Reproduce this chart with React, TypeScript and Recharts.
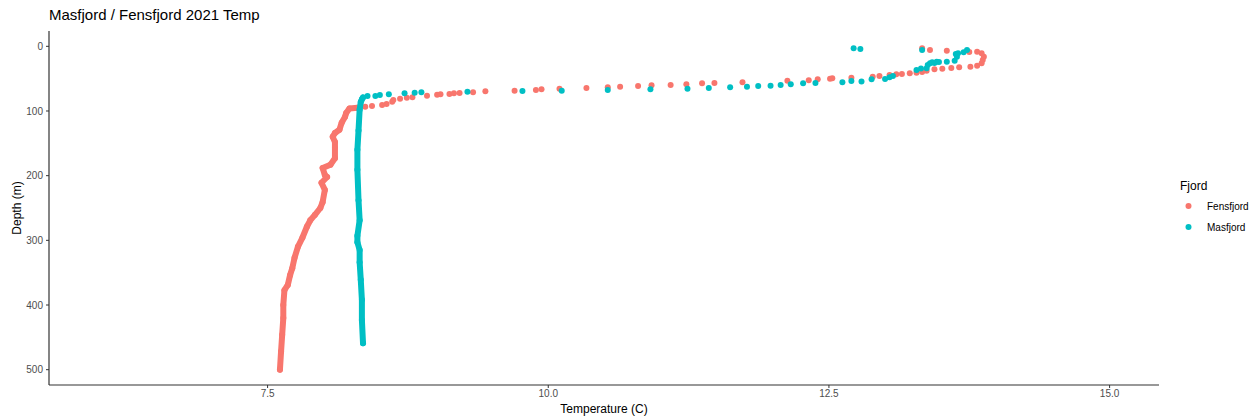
import { ScatterChart, Scatter, XAxis, YAxis, Label } from 'recharts';

// Fensfjord deep profile (continuous CTD trace)
const fensfjordDeep = [
  { temp: 8.3, depth: 95 }, { temp: 8.23, depth: 96 }, { temp: 8.2, depth: 103 },
  { temp: 8.19, depth: 109 }, { temp: 8.16, depth: 118 }, { temp: 8.14, depth: 129 },
  { temp: 8.1, depth: 134 }, { temp: 8.08, depth: 140 }, { temp: 8.1, depth: 148 },
  { temp: 8.1, depth: 157 }, { temp: 8.1, depth: 173 }, { temp: 8.06, depth: 183 },
  { temp: 7.99, depth: 188 }, { temp: 8.01, depth: 199 }, { temp: 8.03, depth: 202 },
  { temp: 7.98, depth: 211 }, { temp: 8.01, depth: 222 }, { temp: 7.99, depth: 241 },
  { temp: 7.97, depth: 250 }, { temp: 7.92, depth: 261 }, { temp: 7.88, depth: 269 },
  { temp: 7.85, depth: 279 }, { temp: 7.81, depth: 296 }, { temp: 7.77, depth: 310 },
  { temp: 7.74, depth: 327 }, { temp: 7.72, depth: 343 }, { temp: 7.7, depth: 354 },
  { temp: 7.68, depth: 369 }, { temp: 7.65, depth: 377 }, { temp: 7.64, depth: 400 },
  { temp: 7.64, depth: 420 }, { temp: 7.63, depth: 446 }, { temp: 7.62, depth: 472 },
  { temp: 7.61, depth: 500 },
];

// Fensfjord upper layer (sparse samples)
const fensfjordUpper = [
  { temp: 8.37, depth: 93.4 }, { temp: 8.43, depth: 92.3 }, { temp: 8.52, depth: 90.8 },
  { temp: 8.56, depth: 89.2 }, { temp: 8.61, depth: 85.7 }, { temp: 8.62, depth: 83 },
  { temp: 8.68, depth: 81 }, { temp: 8.74, depth: 79.5 }, { temp: 8.79, depth: 78.9 },
  { temp: 8.92, depth: 76.4 }, { temp: 9.01, depth: 74.8 }, { temp: 9.04, depth: 74.2 },
  { temp: 9.12, depth: 73.7 }, { temp: 9.16, depth: 72.7 }, { temp: 9.21, depth: 72.2 },
  { temp: 9.33, depth: 71.1 }, { temp: 9.44, depth: 69.6 }, { temp: 9.7, depth: 68.6 },
  { temp: 9.89, depth: 67.6 }, { temp: 9.94, depth: 66.5 }, { temp: 10.1, depth: 65.6 },
  { temp: 10.34, depth: 64.5 }, { temp: 10.53, depth: 63.4 }, { temp: 10.64, depth: 62.5 },
  { temp: 10.8, depth: 61.4 }, { temp: 10.92, depth: 60.3 }, { temp: 11.09, depth: 59.8 },
  { temp: 11.23, depth: 58.8 }, { temp: 11.37, depth: 57.2 }, { temp: 11.48, depth: 56.7 },
  { temp: 11.73, depth: 55.7 }, { temp: 12.13, depth: 53.2 }, { temp: 12.32, depth: 52.6 },
  { temp: 12.4, depth: 51 }, { temp: 12.51, depth: 50.1 }, { temp: 12.53, depth: 49.5 },
  { temp: 12.7, depth: 48.5 }, { temp: 12.89, depth: 47 }, { temp: 12.95, depth: 45.9 },
  { temp: 13.04, depth: 44.4 }, { temp: 13.1, depth: 43.3 }, { temp: 13.15, depth: 42.8 },
  { temp: 13.22, depth: 41.7 }, { temp: 13.28, depth: 40.8 }, { temp: 13.33, depth: 39.7 },
  { temp: 13.37, depth: 37.7 }, { temp: 13.44, depth: 35.6 }, { temp: 13.51, depth: 34.6 },
  { temp: 13.59, depth: 33.5 }, { temp: 13.66, depth: 32.5 }, { temp: 13.76, depth: 31.5 },
  { temp: 13.82, depth: 30 }, { temp: 13.86, depth: 26.3 }, { temp: 13.87, depth: 21.2 },
  { temp: 13.88, depth: 16.1 }, { temp: 13.86, depth: 10.8 }, { temp: 13.82, depth: 8.3 },
  { temp: 13.75, depth: 8.8 }, { temp: 13.55, depth: 6.8 }, { temp: 13.4, depth: 5.7 },
  { temp: 13.33, depth: 3.1 },
];

// Masfjord deep profile
const masfjordDeep = [
  { temp: 8.35, depth: 79 }, { temp: 8.34, depth: 82 }, { temp: 8.33, depth: 86 },
  { temp: 8.32, depth: 98 }, { temp: 8.31, depth: 130 }, { temp: 8.3, depth: 160 },
  { temp: 8.3, depth: 191 }, { temp: 8.31, depth: 238 }, { temp: 8.32, depth: 269 },
  { temp: 8.3, depth: 293 }, { temp: 8.3, depth: 303 }, { temp: 8.32, depth: 315 },
  { temp: 8.32, depth: 334 }, { temp: 8.33, depth: 361 }, { temp: 8.34, depth: 392 },
  { temp: 8.34, depth: 423 }, { temp: 8.35, depth: 459 },
];

// Masfjord upper layer
const masfjordUpper = [
  { temp: 8.39, depth: 76.8 }, { temp: 8.46, depth: 76.8 }, { temp: 8.5, depth: 75.3 },
  { temp: 8.58, depth: 74.2 }, { temp: 8.72, depth: 72.7 }, { temp: 8.81, depth: 71.7 },
  { temp: 8.87, depth: 71.1 }, { temp: 9.28, depth: 70.2 }, { temp: 9.77, depth: 69.1 },
  { temp: 10.12, depth: 68.6 }, { temp: 10.53, depth: 67.6 }, { temp: 10.91, depth: 66.5 },
  { temp: 11.24, depth: 65.6 }, { temp: 11.43, depth: 64.5 }, { temp: 11.62, depth: 63.4 },
  { temp: 11.77, depth: 62.5 }, { temp: 11.87, depth: 61.4 }, { temp: 11.98, depth: 60.9 },
  { temp: 12.07, depth: 59.8 }, { temp: 12.16, depth: 58.8 }, { temp: 12.27, depth: 57.2 },
  { temp: 12.38, depth: 56.7 }, { temp: 12.62, depth: 55.7 }, { temp: 12.7, depth: 53.6 },
  { temp: 12.79, depth: 54.4 }, { temp: 12.88, depth: 51 }, { temp: 13.0, depth: 50.6 },
  { temp: 13.04, depth: 47.9 }, { temp: 13.07, depth: 45.9 }, { temp: 13.28, depth: 36.6 },
  { temp: 13.32, depth: 34.3 }, { temp: 13.37, depth: 34 }, { temp: 13.38, depth: 28.9 },
  { temp: 13.4, depth: 26.3 }, { temp: 13.42, depth: 24.7 }, { temp: 13.44, depth: 25.8 },
  { temp: 13.46, depth: 23.8 }, { temp: 13.48, depth: 24.3 }, { temp: 13.55, depth: 23.8 },
  { temp: 13.62, depth: 22.3 }, { temp: 13.63, depth: 11.9 }, { temp: 13.64, depth: 16.1 },
  { temp: 13.65, depth: 10.8 }, { temp: 13.7, depth: 9.3 }, { temp: 13.73, depth: 5.7 },
  { temp: 12.72, depth: 3.1 }, { temp: 12.78, depth: 4.2 }, { temp: 13.33, depth: 5.7 },
];

const xTicks = [7.5, 10, 12.5, 15];
const yTicks = [0, 100, 200, 300, 400, 500];

const FENS = '#F8766D';
const MAS = '#00BFC4';
const FONT = '"Liberation Sans", Arial, sans-serif';

const dot = (color: string) => (props: any) => (
  <circle cx={props.cx} cy={props.cy} r={3} fill={color} />
);

export default function App() {
  return (
    <div style={{ position: 'relative', width: 1254, height: 419, fontFamily: FONT, background: '#fff' }}>
      <style>{'body{margin:0}'}</style>
      <div style={{ position: 'absolute', left: 49, top: 6, fontSize: 15, lineHeight: '17px', color: '#000' }}>
        Masfjord / Fensfjord 2021 Temp
      </div>
      <div
        style={{
          position: 'absolute', left: 17, top: 208, fontSize: 12, lineHeight: '14px',
          transform: 'translate(-50%, -50%) rotate(-90deg)', whiteSpace: 'nowrap', color: '#000',
        }}
      >
        Depth (m)
      </div>

      <ScatterChart width={1254} height={419} margin={{ top: 31, right: 95, left: 0, bottom: 0 }}>
        <XAxis
          type="number"
          dataKey="temp"
          domain={[5.553, 15.44]}
          ticks={xTicks}
          tickFormatter={(v) => v.toFixed(1)}
          allowDataOverflow
          height={34}
          tickSize={3}
          tickMargin={2}
          axisLine={{ stroke: '#333', strokeWidth: 1.2 }}
          tickLine={{ stroke: '#333' }}
          tick={{ fontSize: 10, fill: '#4D4D4D', fontFamily: FONT }}
        >
          <Label value="Temperature (C)" position="insideBottom" offset={6} style={{ fontSize: 12, fill: '#000', fontFamily: FONT }} />
        </XAxis>
        <YAxis
          type="number"
          dataKey="depth"
          domain={[-23.7, 523.7]}
          reversed
          ticks={yTicks}
          allowDataOverflow
          width={49}
          tickSize={3}
          tickMargin={3}
          axisLine={{ stroke: '#333', strokeWidth: 1.2 }}
          tickLine={{ stroke: '#333' }}
          tick={{ fontSize: 10, fill: '#4D4D4D', fontFamily: FONT }}
        />
        <Scatter
          name="Fensfjord"
          data={fensfjordDeep}
          fill={FENS}
          shape={dot(FENS)}
          line={{ stroke: FENS, strokeWidth: 6, strokeLinecap: 'round', strokeLinejoin: 'round' }}
          lineType="joint"
          isAnimationActive={false}
        />
        <Scatter name="Fensfjord" data={fensfjordUpper} fill={FENS} shape={dot(FENS)} isAnimationActive={false} />
        <Scatter
          name="Masfjord"
          data={masfjordDeep}
          fill={MAS}
          shape={dot(MAS)}
          line={{ stroke: MAS, strokeWidth: 6, strokeLinecap: 'round', strokeLinejoin: 'round' }}
          lineType="joint"
          isAnimationActive={false}
        />
        <Scatter name="Masfjord" data={masfjordUpper} fill={MAS} shape={dot(MAS)} isAnimationActive={false} />
      </ScatterChart>

      <div style={{ position: 'absolute', left: 1180, top: 179, fontSize: 12, lineHeight: '14px', color: '#000' }}>
        Fjord
      </div>
      {[{ name: 'Fensfjord', color: FENS, y: 206 }, { name: 'Masfjord', color: MAS, y: 227 }].map((item) => (
        <div key={item.name} style={{ position: 'absolute', left: 1180, top: item.y - 8, height: 16, display: 'flex', alignItems: 'center' }}>
          <svg width={17} height={16}>
            <circle cx={8.5} cy={8} r={3} fill={item.color} />
          </svg>
          <span style={{ marginLeft: 10, fontSize: 10, color: '#000' }}>{item.name}</span>
        </div>
      ))}
    </div>
  );
}
